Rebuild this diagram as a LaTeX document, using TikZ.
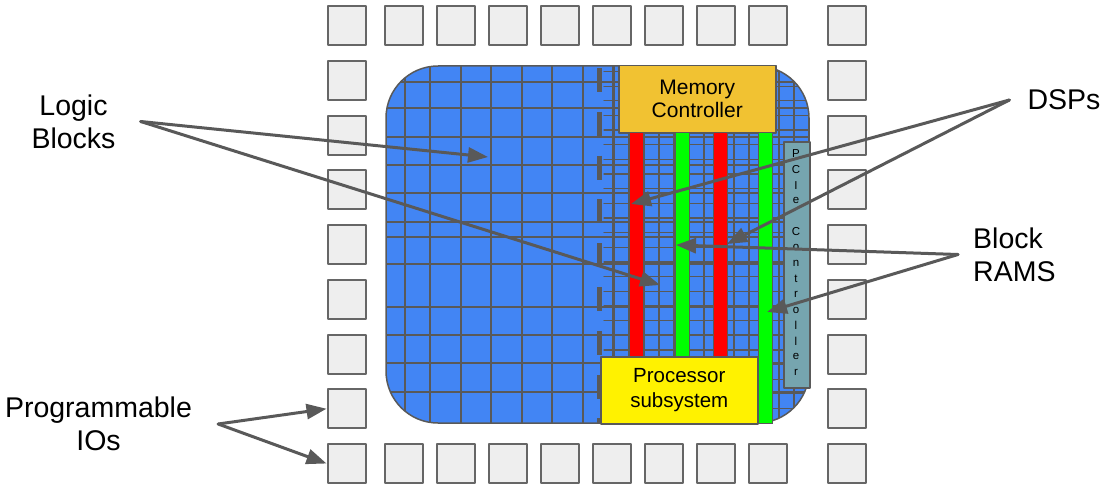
\documentclass[tikz,border=0pt]{standalone}
\usepackage{fontspec}
\setmainfont{Liberation Sans}
\usetikzlibrary{arrows.meta,positioning}
\definecolor{chipblue}{HTML}{4285F4}
\definecolor{linegray}{HTML}{595959}
\definecolor{padgray}{HTML}{EEEEEE}
\definecolor{padedge}{HTML}{666666}
\definecolor{memorange}{HTML}{F1C232}
\definecolor{pcieteal}{HTML}{76A5AF}
\begin{document}
\begin{tikzpicture}[x=1pt,y=-1pt,>={Triangle[length=20pt,width=15pt]}, line join=round, line cap=round,
	pad/.style={draw=padedge, line width=2, fill=padgray, minimum width=38, minimum height=39, inner sep=0},
	gridline/.style={draw=linegray, line width=2},
	fineline/.style={draw=linegray, line width=1.3},
	bar/.style={draw=linegray, line width=1, fill=#1, minimum width=14, inner sep=0, anchor=north west},
	block/.style={draw=linegray, line width=1.5, fill=#1, minimum width=157, minimum height=67, inner sep=0, anchor=north west, align=center},
	tag/.style={inner sep=0, font=\fontsize{28.5}{33}\selectfont},
	pointer/.style={->, draw=linegray, line width=3}]
	\def\padx{346.5} \def\pady{25.5} \def\padstep{54.75}
	
	\useasboundingbox (0,0) rectangle (1105,487);
	
	% IO ring
	\foreach \x [count=\i] in {346.5,404,456,508,560,612,664,716,768,846.5}{
		\node[pad] (top\i) at (\x,\pady) {};
		\node[pad] (bot\i) at (\x,463.5) {};
	}
	\foreach \j in {1,...,7}{
		\node[pad] (left\j) at (\padx,\pady+\padstep*\j) {};
		\node[pad] (right\j) at (846.5,\pady+\padstep*\j) {};
	}
	
	% fabric
	\begin{scope}
		\clip[rounded corners=52] (386,66) rectangle (809,423);
		\fill[chipblue] (386,66) rectangle (809,423);
		\foreach \x in {405,430,461,491,522,552,583,613}
		\draw[gridline] (\x,66)--(\x,423);
		\foreach \y in {81.7,108.3,136.7,165,193.3,221.7,236.7,264.3,306.7,335,363.3,391.7}
		\draw[gridline] (386,\y)--(809,\y);
		\foreach \x in {614,629,...,809}
		\draw[fineline] (\x,66)--(\x,423);
		\foreach \k in {0,...,24}
		\draw[fineline] (604,71.5+14.65*\k)--(809,71.5+14.65*\k);
	\end{scope}
	\draw[linegray, line width=1.5, rounded corners=52] (386,66) rectangle (809,423);
	\draw[linegray, line width=5, line cap=butt, dash pattern=on 24pt off 19.8pt] (599,68)--(599,423);
	
	\node[block=memorange, font=\fontsize{21}{23}\selectfont] (memctrl) at (618,65) {Memory\\Controller};
	\node[bar=red, minimum height=224] (dsp1) at (629,132) {};
	\node[bar=green, minimum height=224] (bram1) at (675,132) {};
	\node[bar=red, minimum height=224] (dsp2) at (713,132) {};
	\node[bar=green, minimum height=291] (bram2) at (758,132) {};
	\node[block=yellow, font=\fontsize{20.5}{25}\selectfont] (procsub) at (600,356) {Processor\\subsystem};
	\node[draw=linegray, line width=1.5, fill=pcieteal, minimum width=26, minimum height=246, inner sep=0, anchor=north west] (pcie) at (783,141) {};
	\foreach \ch [count=\i from 0] in {P,C,I,e,{},C,o,n,t,r,o,l,l,e,r}
	\node[font=\fontsize{11.5}{13}\selectfont, inner sep=0] at (796,154+15.6*\i) {\ch};
	
	% callouts
	\node[tag, align=center] (logic) at (73.5,121.5) {Logic\\Blocks};
	\node[tag] (dsps) at (1064,100) {DSPs};
	\node[tag, align=left, anchor=west] (bram) at (973,254.5) {Block\\RAMS};
	\node[tag, align=center] (progio) at (98.5,424) {Programmable\\IOs};
	
	\coordinate[right=25pt of logic] (logicfork);
	\coordinate[left=18pt of dsps] (dspfork);
	\coordinate[left=15pt of bram] (bramfork);
	\coordinate[right=26pt of progio] (iofork);
	\coordinate (logictip1) at (488,157);
	\coordinate (logictip2) at (660,285);
	\coordinate (dsptip1) at (631,204);
	\coordinate (dsptip2) at (727,244);
	\coordinate (bramtip1) at (676,245);
	\coordinate (bramtip2) at (767,312);
	
	\draw[pointer] (logicfork)--(logictip1);
	\draw[pointer] (logicfork)--(logictip2);
	\draw[pointer] (dspfork)--(dsptip1);
	\draw[pointer] (dspfork)--(dsptip2);
	\draw[pointer] (bramfork)--(bramtip1);
	\draw[pointer] (bramfork)--(bramtip2);
	\draw[pointer] (iofork)--(left7.west);
	\draw[pointer] (iofork)--(bot1.west);
\end{tikzpicture}
\end{document}
